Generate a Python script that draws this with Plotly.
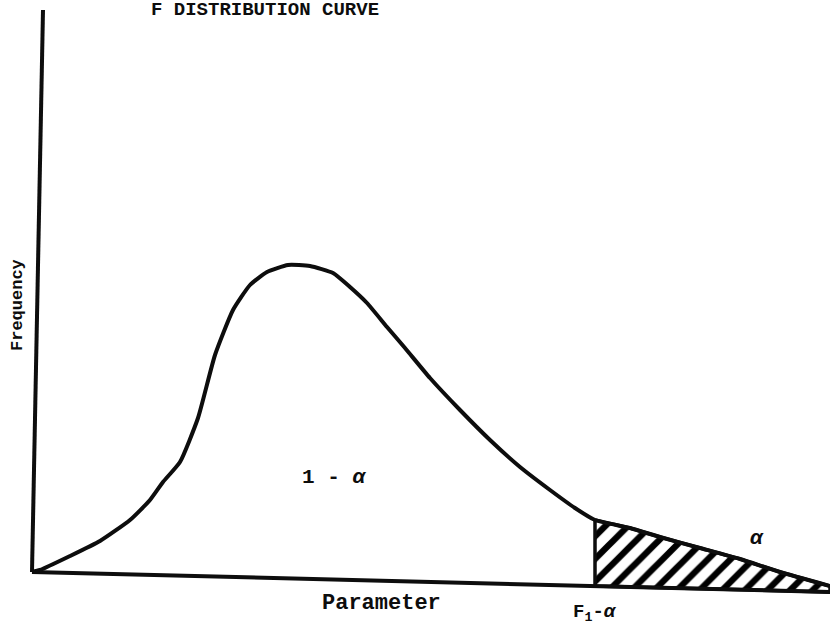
import numpy as np
import plotly.graph_objects as go

# F distribution sketch: parameter vs frequency (arbitrary units)
param = [0.00, 0.08, 0.38, 0.68, 0.98, 1.18, 1.31, 1.48, 1.66, 1.83, 2.01,
         2.18, 2.35, 2.56, 2.78, 3.01, 3.18, 3.35, 3.55, 3.73, 3.98, 4.28, 4.58,
         4.88, 5.18, 5.43, 5.63, 5.98, 6.28, 6.68, 7.08, 7.48, 7.98]
freq = [0.00, 0.02, 0.16, 0.31, 0.52, 0.72, 0.90, 1.10, 1.54, 2.17, 2.62,
        2.87, 3.00, 3.07, 3.06, 2.99, 2.85, 2.69, 2.45, 2.24, 1.94, 1.62, 1.32,
        1.05, 0.82, 0.64, 0.52, 0.44, 0.35, 0.24, 0.13, 0.00, -0.14]

# hand-drawn axes (slightly skewed)
x_axis_x = [0.00, 7.98]
x_axis_y = [0.00, -0.20]
y_axis_x = [0.00, 0.11]
y_axis_y = [0.00, 5.62]

f_crit = 5.63  # F(1-alpha) critical value

INK = "#0d0d0d"
MONO = "Liberation Mono, Courier New, monospace"

fig = go.Figure()

# shaded rejection region (alpha)
tail_x = [x for x in param if x >= f_crit]
tail_y = [y for x, y in zip(param, freq) if x >= f_crit]
base_x = tail_x[::-1]
base_y = list(np.interp(base_x, x_axis_x, x_axis_y))
fig.add_trace(go.Scatter(
    x=tail_x + base_x + [tail_x[0]],
    y=tail_y + base_y + [tail_y[0]],
    mode="lines", fill="toself",
    fillcolor="rgba(255,255,255,1)",
    fillpattern=dict(shape="/", fgcolor="#000000", fgopacity=1, bgcolor="#ffffff",
                     size=16, solidity=0.4, fillmode="replace"),
    line=dict(color=INK, width=3.5),
    opacity=1,
    hoverinfo="skip", showlegend=False,
))

# axes
fig.add_trace(go.Scatter(x=x_axis_x, y=x_axis_y, mode="lines",
                         line=dict(color=INK, width=4), showlegend=False, hoverinfo="skip"))
fig.add_trace(go.Scatter(x=y_axis_x, y=y_axis_y, mode="lines",
                         line=dict(color=INK, width=4), showlegend=False, hoverinfo="skip"))

# density curve
fig.add_trace(go.Scatter(x=param, y=freq, mode="lines",
                         line=dict(color=INK, width=4, shape="spline", smoothing=0.5),
                         showlegend=False))


def label(x, y, text, size, **kw):
    fig.add_annotation(x=x, y=y, text=text, showarrow=False, xref="x", yref="y",
                       font=dict(family=MONO, color=INK, size=size), **kw)


label(2.33, 5.62, "<b>F DISTRIBUTION CURVE</b>", 19)
label(-0.15, 2.67, "<b>Frequency</b>", 17, textangle=-90)
label(3.49, -0.31, "<b>Parameter</b>", 22)
label(5.63, -0.41, "<b>F<sub>1</sub>-<i>α</i></b>", 19)
label(3.02, 0.95, "<b>1 - <i>α</i></b>", 21)
label(7.25, 0.34, "<b><i>α</i></b>", 21)

fig.update_layout(
    width=830, height=627,
    margin=dict(l=0, r=0, t=0, b=0),
    paper_bgcolor="white", plot_bgcolor="white",
    xaxis=dict(range=[-0.32, 7.98], visible=False, fixedrange=True),
    yaxis=dict(range=[-0.55, 5.72], visible=False, fixedrange=True),
    showlegend=False,
)

fig.write_html("out.html")
